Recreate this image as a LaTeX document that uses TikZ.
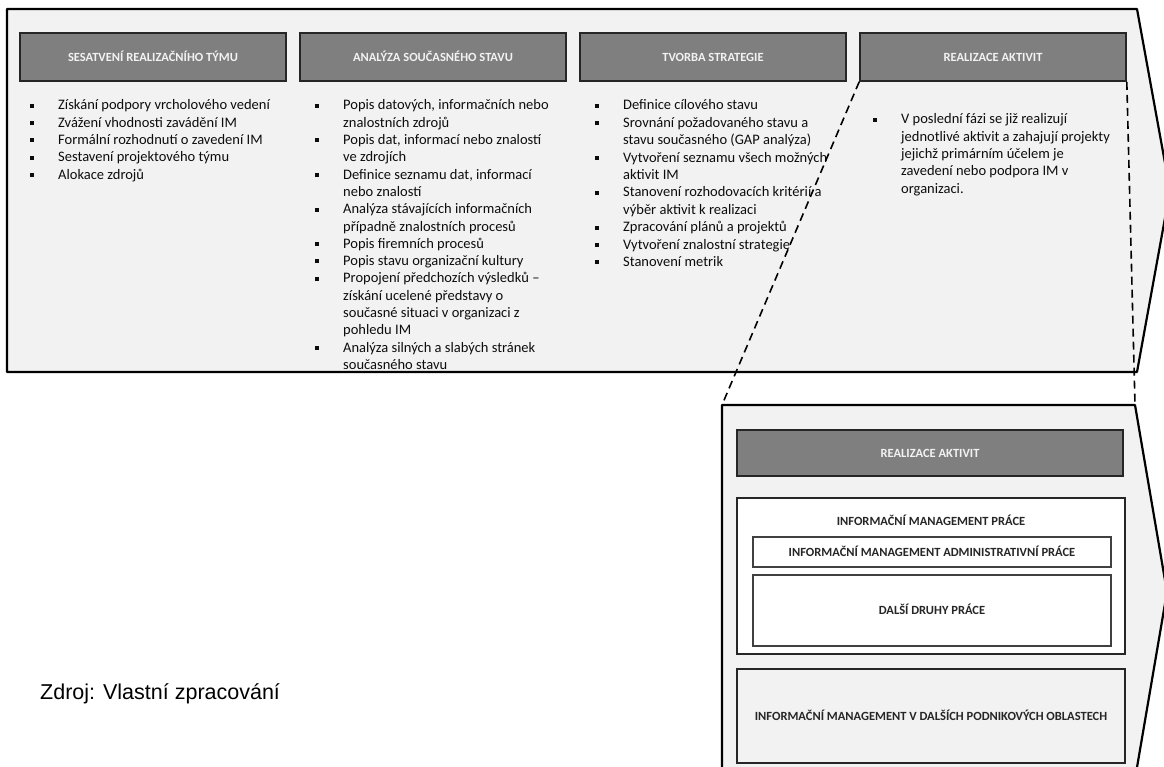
\documentclass[tikz,border=0pt]{standalone}
\usepackage{fontspec}
\setmainfont{Carlito}
\newfontfamily\arialfont{Liberation Sans}
\definecolor{shapefill}{HTML}{F2F2F2}
\definecolor{hdrfill}{HTML}{7F7F7F}
\definecolor{hdrline}{HTML}{262626}
\definecolor{bodytxt}{HTML}{0D0D0D}
\definecolor{boxline}{HTML}{404040}

% square bullet and list rows
\newcommand\sqbul{\makebox[28pt][l]{\rule[2.2pt]{4pt}{4pt}}}
\newcommand\itm[1]{\sqbul & #1\\}
\newcommand\cnt[1]{& #1\\}

\tikzset{
  chevron/.style={draw=black, line width=2.2pt, fill=shapefill, line join=round},
  capsfont/.style={font=\fontsize{12.5}{14}\selectfont\bfseries, text height=8.5pt, text depth=0pt},
  hdr/.style={draw=hdrline, line width=1.6pt, fill=hdrfill, text=shapefill,
    capsfont, inner sep=0pt},
  phase/.style={hdr, minimum width=266, minimum height=48},
  listtext/.style={inner sep=0pt, text=bodytxt, anchor=base west},
  ibox/.style={draw=hdrline, line width=1.6pt, inner sep=0pt, capsfont, text=hdrline},
  wbox/.style={draw=boxline, line width=1.1pt, fill=white, inner sep=0pt,
    capsfont, text=hdrline},
  zoomline/.style={draw=black, line width=1.6pt, dash pattern=on 8pt off 5pt}
}

\begin{document}
\begin{tikzpicture}[x=1pt, y=-1pt]
\useasboundingbox (0,0) rectangle (1164,767);
\clip (0,0) rectangle (1164,767);

% upper process chevron
\draw[chevron] (7,9) -- (1137,9) -- (1170,190.5) -- (1137,372) -- (7,372) -- cycle;

% phase headers
\node[phase] (h1) at (153,57) {SESATVENÍ REALIZAČNÍHO TÝMU};
\node[phase] (h2) at (433,57) {ANALÝZA SOUČASNÉHO STAVU};
\node[phase] (h3) at (713,57) {TVORBA STRATEGIE};
\node[phase] (h4) at (993,57) {REALIZACE AKTIVIT};

% phase contents
\node[listtext, font=\fontsize{14.5}{17.3}\selectfont] (c1) at (30,110) {%
\begin{tabular}[t]{@{}l@{}l@{}}
\itm{Získání podpory vrcholového vedení}
\itm{Zvážení vhodnosti zavádění IM}
\itm{Formální rozhodnutí o zavedení IM}
\itm{Sestavení projektového týmu}
\itm{Alokace zdrojů}
\end{tabular}};

\node[listtext, font=\fontsize{14.5}{17.3}\selectfont] (c2) at (315,110) {%
\begin{tabular}[t]{@{}l@{}l@{}}
\itm{Popis datových, informačních nebo}
\cnt{znalostních zdrojů}
\itm{Popis dat, informací nebo znalostí}
\cnt{ve zdrojích}
\itm{Definice seznamu dat, informací}
\cnt{nebo znalostí}
\itm{Analýza stávajících informačních}
\cnt{případně znalostních procesů}
\itm{Popis firemních procesů}
\itm{Popis stavu organizační kultury}
\itm{Propojení předchozích výsledků –}
\cnt{získání ucelené představy o}
\cnt{současné situaci v organizaci z}
\cnt{pohledu IM}
\itm{Analýza silných a slabých stránek}
\cnt{současného stavu}
\end{tabular}};

\node[listtext, font=\fontsize{14.5}{17.4}\selectfont] (c3) at (595,110) {%
\begin{tabular}[t]{@{}l@{}l@{}}
\itm{Definice cílového stavu}
\itm{Srovnání požadovaného stavu a}
\cnt{stavu současného (GAP analýza)}
\itm{Vytvoření seznamu všech možných}
\cnt{aktivit IM}
\itm{Stanovení rozhodovacích kritérií a}
\cnt{výběr aktivit k realizaci}
\itm{Zpracování plánů a projektů}
\itm{Vytvoření znalostní strategie}
\itm{Stanovení metrik}
\end{tabular}};

\node[listtext, font=\fontsize{14.5}{17.3}\selectfont] (c4) at (873,124) {%
\begin{tabular}[t]{@{}l@{}l@{}}
\itm{V poslední fázi se již realizují}
\cnt{jednotlivé aktivit a zahajují projekty}
\cnt{jejichž primárním účelem je}
\cnt{zavedení nebo podpora IM v}
\cnt{organizaci.}
\end{tabular}};

% detail chevron of the last phase
\draw[chevron] (722,790) -- (722,405) -- (1135,405) -- (1167,592) -- (1135,779);
\coordinate (dl) at (722,405);
\coordinate (dr) at (1135,405);

\node[hdr, minimum width=386, minimum height=46] (h5) at (930,453) {REALIZACE AKTIVIT};
\node[ibox, fill=white, minimum width=388, minimum height=156] (prace) at (931,576) {};
\node[capsfont, text=hdrline, inner sep=0pt] (pracelbl) at (931,521) {INFORMAČNÍ MANAGEMENT PRÁCE};
\node[wbox, minimum width=358, minimum height=30] (adm) at (932,552) {INFORMAČNÍ MANAGEMENT ADMINISTRATIVNÍ PRÁCE};
\node[wbox, minimum width=358, minimum height=71] (dalsi) at (932,610.5) {DALŠÍ DRUHY PRÁCE};
\node[ibox, fill=shapefill, minimum width=388, minimum height=94] (obl) at (931,716) {INFORMAČNÍ MANAGEMENT V DALŠÍCH PODNIKOVÝCH OBLASTECH};

% zoom guides from the last phase header
\draw[zoomline] (h4.south west) -- (dl);
\draw[zoomline] (h4.south east) -- (dr);

% source note
\node[anchor=base west, inner sep=0pt, font=\arialfont\fontsize{21.5}{24}\selectfont] (src) at (40,699) {Zdroj: Vlastní zpracování};
\end{tikzpicture}
\end{document}
